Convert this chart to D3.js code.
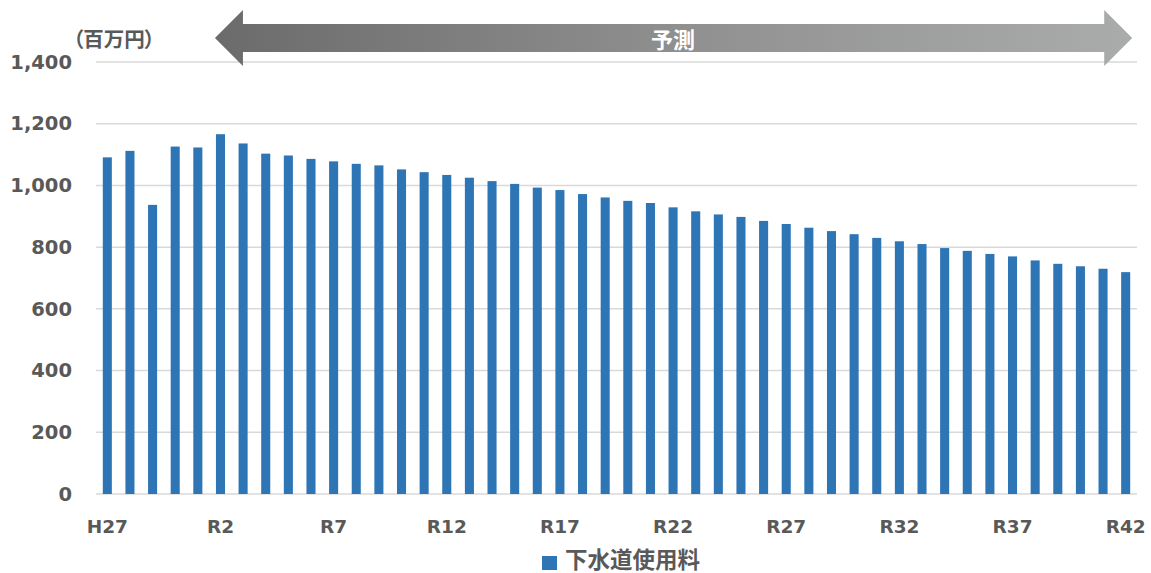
<!DOCTYPE html>
<html>
<head>
<meta charset="utf-8">
<script src="https://cdn.jsdelivr.net/npm/d3@7"></script>
<style>
  html, body { margin: 0; padding: 0; background: #fff; }
  svg { display: block; }
  .jp { font-feature-settings: "palt"; }
</style>
</head>
<body>
<svg id="chart" width="1151" height="573"></svg>
<script>
// Fiscal years: H27–H30, then R1–R42
const years = ["H27", "H28", "H29", "H30"].concat(d3.range(1, 43).map(n => "R" + n));

// Sewerage usage fee revenue (million yen)
const fees = [
  1091, 1112, 937, 1126, 1123, 1166, 1136, 1103, 1097, 1086,
  1078, 1070, 1065, 1052, 1043, 1034, 1025, 1014, 1005, 993,
  985, 972, 961, 950, 943, 929, 916, 906, 898, 885,
  875, 863, 852, 842, 830, 819, 810, 797, 788, 778,
  770, 757, 746, 738, 730, 719
];

const yTicks = [0, 200, 400, 600, 800, 1000, 1200, 1400];
const xTickLabels = ["H27", "R2", "R7", "R12", "R17", "R22", "R27", "R32", "R37", "R42"];
const seriesName = "下水道使用料";
const unitLabel = "（百万円）";
const forecastLabel = "予測";
const forecastStart = "R2", forecastEnd = "R42";

const svg = d3.select("#chart");
const margin = { left: 96, right: 14, top: 62, bottom: 79 };
const W = 1151, H = 573;

const x = d3.scaleBand()
  .domain(years)
  .range([margin.left, W - margin.right])
  .paddingInner(0.6)
  .paddingOuter(0.3);

const y = d3.scaleLinear()
  .domain([0, 1400])
  .range([H - margin.bottom, margin.top]);

const textColor = "#595959";
const numFont = "'DejaVu Sans', Verdana, sans-serif";
const jpFont = "'Noto Sans CJK JP', sans-serif";

// Horizontal gridlines
svg.append("g")
  .selectAll("line")
  .data(yTicks)
  .join("line")
  .attr("x1", margin.left)
  .attr("x2", W - margin.right)
  .attr("y1", d => y(d))
  .attr("y2", d => y(d))
  .attr("stroke", "#d9d9d9")
  .attr("stroke-width", 1.5);

// Y axis labels
const yAxis = d3.axisLeft(y)
  .tickValues(yTicks)
  .tickFormat(d3.format(","))
  .tickSize(0)
  .tickPadding(24);
const gy = svg.append("g")
  .attr("transform", `translate(${margin.left},0)`)
  .call(yAxis);
gy.select(".domain").remove();
gy.selectAll("text")
  .attr("fill", textColor)
  .attr("font-family", numFont)
  .attr("font-weight", "bold")
  .attr("font-size", 19.5);

// Bars
svg.append("g")
  .selectAll("rect")
  .data(years.map((yr, i) => ({ yr, v: fees[i] })))
  .join("rect")
  .attr("x", d => x(d.yr))
  .attr("width", x.bandwidth())
  .attr("y", d => y(d.v))
  .attr("height", d => y(0) - y(d.v))
  .attr("fill", "#2e75b6");

// X axis labels (every fifth year)
const xAxis = d3.axisBottom(x)
  .tickValues(xTickLabels)
  .tickSize(0)
  .tickPadding(26);
const gx = svg.append("g")
  .attr("transform", `translate(0,${y(0)})`)
  .call(xAxis);
gx.select(".domain").remove();
gx.selectAll("text")
  .attr("fill", textColor)
  .attr("font-family", numFont)
  .attr("font-weight", "bold")
  .attr("font-size", 18.5);

// Unit label
svg.append("text")
  .attr("class", "jp")
  .attr("x", 73)
  .attr("y", 46.5)
  .attr("fill", textColor)
  .attr("font-family", jpFont)
  .attr("font-weight", "bold")
  .attr("font-size", 20.5)
  .text(unitLabel);

// Forecast double arrow
const grad = svg.append("defs").append("linearGradient")
  .attr("id", "arrowGrad")
  .attr("x1", "0%").attr("x2", "100%").attr("y1", "0%").attr("y2", "0%");
grad.append("stop").attr("offset", "0%").attr("stop-color", "#6b6b6b");
grad.append("stop").attr("offset", "50%").attr("stop-color", "#8f8f8f");
grad.append("stop").attr("offset", "100%").attr("stop-color", "#aaacab");

const ax0 = x(forecastStart) - 1, ax1 = x(forecastEnd) + x.bandwidth() + 2;
const head = 28, shaftTop = 24, shaftBot = 52, headTop = 10, headBot = 66;
const mid = (shaftTop + shaftBot) / 2;
const arrowPath = d3.path();
arrowPath.moveTo(ax0, mid);
arrowPath.lineTo(ax0 + head, headTop);
arrowPath.lineTo(ax0 + head, shaftTop);
arrowPath.lineTo(ax1 - head, shaftTop);
arrowPath.lineTo(ax1 - head, headTop);
arrowPath.lineTo(ax1, mid);
arrowPath.lineTo(ax1 - head, headBot);
arrowPath.lineTo(ax1 - head, shaftBot);
arrowPath.lineTo(ax0 + head, shaftBot);
arrowPath.lineTo(ax0 + head, headBot);
arrowPath.closePath();
svg.append("path")
  .attr("d", arrowPath.toString())
  .attr("fill", "url(#arrowGrad)");

svg.append("text")
  .attr("class", "jp")
  .attr("x", 673)
  .attr("y", 47.5)
  .attr("text-anchor", "middle")
  .attr("fill", "#ffffff")
  .attr("font-family", jpFont)
  .attr("font-weight", "bold")
  .attr("font-size", 22)
  .text(forecastLabel);

// Legend
const legend = svg.append("g").attr("transform", "translate(542,556)");
legend.append("rect")
  .attr("width", 15).attr("height", 14)
  .attr("fill", "#2e75b6");
legend.append("text")
  .attr("class", "jp")
  .attr("x", 23)
  .attr("y", 11.5)
  .attr("fill", textColor)
  .attr("font-family", jpFont)
  .attr("font-weight", "bold")
  .attr("font-size", 22.5)
  .text(seriesName);
</script>
</body>
</html>
